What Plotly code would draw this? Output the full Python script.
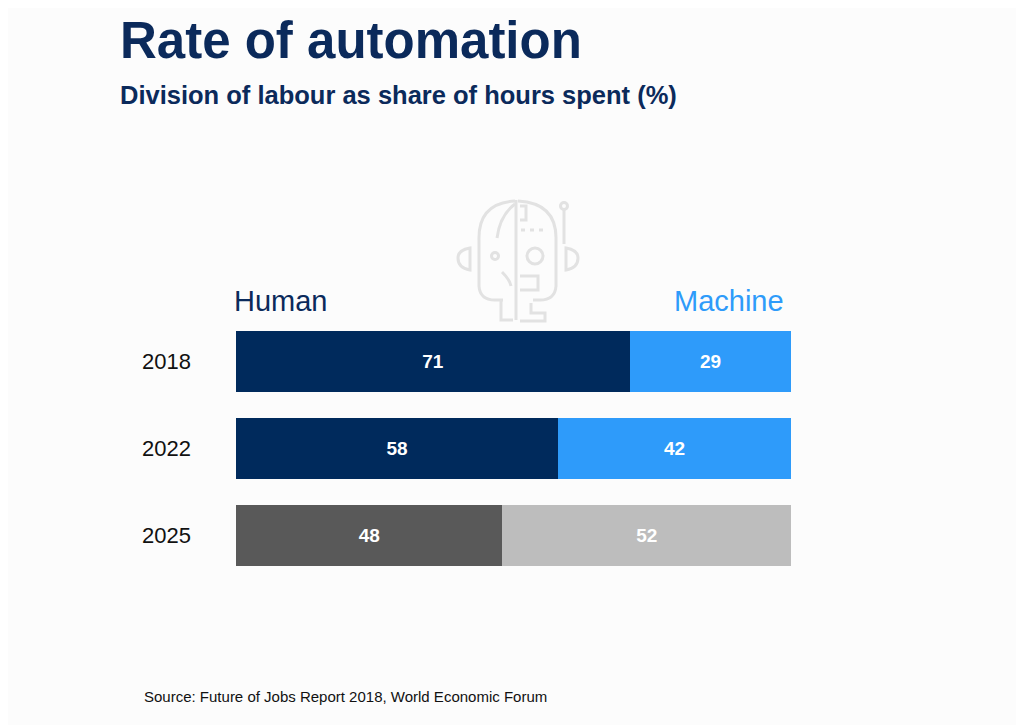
import plotly.graph_objects as go

# ---- data ----
years = ["2018", "2022", "2025"]
human = [71, 58, 48]
machine = [29, 42, 52]
human_colors = ["#002A5C", "#002A5C", "#595959"]
machine_colors = ["#2E9BFA", "#2E9BFA", "#BDBDBD"]

title = "Rate of automation"
subtitle = "Division of labour as share of hours spent (%)"
source = "Source: Future of Jobs Report 2018, World Economic Forum"

W, H = 1024, 725
OFF = 8                  # page body offset
L, R = 236 - OFF, 791 - OFF   # plot area in figure px
T, B = 318 - OFF, 579 - OFF

def px(x):
    x = x - OFF
    return (x - L) / (R - L)

def py(y):
    y = y - OFF
    return (B - y) / (B - T)

FONT = "Liberation Sans, Arial, sans-serif"

fig = go.Figure()
fig.add_trace(go.Bar(
    y=years, x=human, orientation="h", name="Human",
    marker=dict(color=human_colors, line=dict(width=0)),
    text=human, texttemplate="<b>%{text}</b>", textposition="inside",
    insidetextanchor="middle", textfont=dict(color="white", size=19, family=FONT),
    width=0.69,
))
fig.add_trace(go.Bar(
    y=years, x=machine, orientation="h", name="Machine",
    marker=dict(color=machine_colors, line=dict(width=0)),
    text=machine, texttemplate="<b>%{text}</b>", textposition="inside",
    insidetextanchor="middle", textfont=dict(color="white", size=19, family=FONT),
    width=0.69,
))

# ---- decorative faint icon (human / robot head) ----
ic = "#E2E2E2"

def path_from(cmds):
    out = []
    for c in cmds:
        if isinstance(c, str):
            out.append(c)
        else:
            out.append(f"{px(c[0]):.4f},{py(c[1]):.4f}")
    return " ".join(out)

icon_paths = [
    ["M", (515, 201), "Q", (478, 203), (479, 240), "L", (479, 286), "Q", (480, 300), (495, 300), "L", (503, 300)],
    ["M", (515, 204), "Q", (500, 215), (497, 238)],
    ["M", (501, 300), "L", (501, 320), "L", (513, 320)],
    ["M", (502, 272), "Q", (510, 280), (511, 286)],
    ["M", (516, 200), "L", (516, 320)],
    ["M", (518, 201), "Q", (557, 203), (556, 240), "L", (556, 286), "Q", (555, 300), (540, 300), "L", (533, 300)],
    ["M", (564, 210), "L", (564, 244)],
    ["M", (520, 206), "L", (526, 206), "L", (526, 220), "L", (520, 220)],
    ["M", (520, 276), "L", (538, 276), "L", (538, 290), "L", (520, 290)],
    ["M", (531, 303), "L", (531, 313), "L", (545, 313), "L", (545, 321), "L", (520, 321)],
    ["M", (566, 248), "Q", (578, 250), (578, 258), "Q", (578, 268), (566, 270), "Z"],
    ["M", (470, 248), "Q", (458, 250), (458, 258), "Q", (458, 268), (470, 270), "Z"],
    ["M", (521, 230), "L", (525, 230)],
    ["M", (530, 230), "L", (534, 230)],
    ["M", (539, 230), "L", (543, 230)],
]
shapes = []
for p in icon_paths:
    shapes.append(dict(type="path", xref="paper", yref="paper", path=path_from(p),
                       line=dict(color=ic, width=3), layer="below"))
for (cx, cy, r) in [(495, 256, 3.5), (535, 256, 8), (564, 206, 3.5)]:
    shapes.append(dict(type="circle", xref="paper", yref="paper",
                       x0=px(cx - r), x1=px(cx + r), y0=py(cy + r), y1=py(cy - r),
                       line=dict(color=ic, width=3), layer="below"))

annotations = [
    dict(text=f"<b>{title}</b>", x=px(118), y=py(40), xref="paper", yref="paper",
         xanchor="left", yanchor="middle", showarrow=False,
         font=dict(size=51, color="#0B2A5B", family=FONT)),
    dict(text=f"<b>{subtitle}</b>", x=px(118), y=py(95), xref="paper", yref="paper",
         xanchor="left", yanchor="middle", showarrow=False,
         font=dict(size=25.5, color="#0B2A5B", family=FONT)),
    dict(text="Human", x=px(232), y=py(301), xref="paper", yref="paper",
         xanchor="left", yanchor="middle", showarrow=False,
         font=dict(size=29, color="#0B2A5B", family=FONT)),
    dict(text="Machine", x=px(786), y=py(301), xref="paper", yref="paper",
         xanchor="right", yanchor="middle", showarrow=False,
         font=dict(size=29, color="#2E9BFA", family=FONT)),
    dict(text=source, x=px(142), y=py(696), xref="paper", yref="paper",
         xanchor="left", yanchor="middle", showarrow=False,
         font=dict(size=15, color="#111111", family=FONT)),
]

fig.update_layout(
    width=W, height=H,
    barmode="stack",
    bargap=0.31,
    showlegend=False,
    paper_bgcolor="#FCFCFC",
    plot_bgcolor="rgba(0,0,0,0)",
    margin=dict(l=L, r=W - R, t=T, b=H - B, pad=0),
    xaxis=dict(range=[0, 100], visible=False, fixedrange=True),
    yaxis=dict(categoryorder="array", categoryarray=years, autorange="reversed",
               showgrid=False, zeroline=False, showline=False, ticks="",
               tickfont=dict(size=22, color="#111111", family=FONT),
               ticklabelstandoff=44),
    shapes=shapes,
    annotations=annotations,
    font=dict(family=FONT),
)

fig.write_html("out.html")
